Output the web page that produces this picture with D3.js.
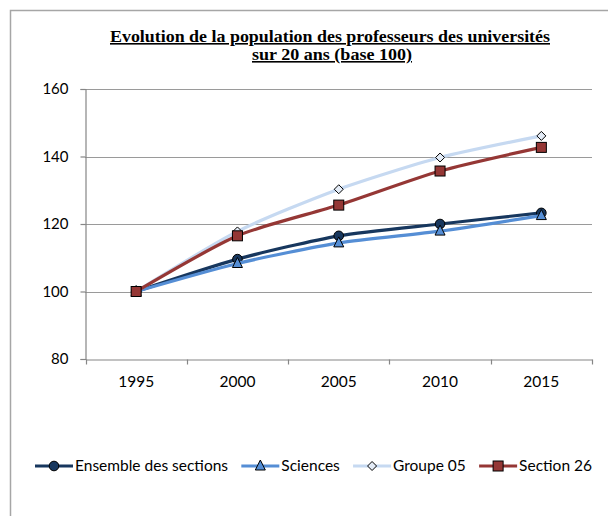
<!DOCTYPE html>
<html lang="fr">
<head>
<meta charset="UTF-8">
<title>Evolution professeurs</title>
<script src="https://d3js.org/d3.v7.min.js"></script>
<style>
  body { margin: 0; background: #fff; }
</style>
</head>
<body>
<div id="chart"></div>
<script>
var years = ["1995", "2000", "2005", "2010", "2015"];
var ensemble = [100, 109.6, 116.5, 120.0, 123.3];
var sciences = [100, 108.3, 114.4, 117.9, 122.5];
var groupe05 = [100, 117.8, 130.3, 139.7, 146.1];
var section26 = [100, 116.5, 125.6, 135.7, 142.7];
var yTicks = [80, 100, 120, 140, 160];

var series = [
  {name: "Ensemble des sections", values: ensemble, color: "#17375e", marker: "circle", fill: "#17375e"},
  {name: "Sciences", values: sciences, color: "#558ed5", marker: "triangle", fill: "#558ed5"},
  {name: "Groupe 05", values: groupe05, color: "#c6d9f1", marker: "diamond", fill: "#e4ecf7"},
  {name: "Section 26", values: section26, color: "#953735", marker: "square", fill: "#953735"}
];

var W = 608, H = 516;
var svg = d3.select("#chart").append("svg")
    .attr("width", W).attr("height", H);

// frame (top + left visible)
svg.append("path")
    .attr("d", "M10.5,516 L10.5,10.5 L608,10.5")
    .attr("fill", "none").attr("stroke", "#a6a6a6").attr("stroke-width", 1.5);

// title
var title = svg.append("text")
    .attr("text-anchor", "middle")
    .attr("font-family", "Liberation Serif, Times New Roman, serif")
    .attr("font-weight", "bold")
    .attr("font-size", "16px")
    .attr("text-decoration", "underline")
    .attr("fill", "#000");
title.append("tspan").attr("x", 330).attr("y", 42)
    .attr("textLength", 440).attr("lengthAdjust", "spacingAndGlyphs")
    .text("Evolution de la population des professeurs des universités");
title.append("tspan").attr("x", 332).attr("y", 60)
    .attr("textLength", 160).attr("lengthAdjust", "spacingAndGlyphs")
    .text("sur 20 ans (base 100)");

var x = d3.scaleBand().domain(years).range([85.5, 592]);
var y = d3.scaleLinear().domain([80, 160]).range([359, 89]);

var font = "Lato, Carlito, Calibri, sans-serif";

// grid
svg.append("g").selectAll("line").data(yTicks.slice(1)).enter().append("line")
    .attr("x1", 85).attr("x2", 592)
    .attr("y1", function(d) { return Math.round(y(d)) + 0.5; })
    .attr("y2", function(d) { return Math.round(y(d)) + 0.5; })
    .attr("stroke", "#9a9a9a").attr("stroke-width", 1.2);

// y axis
var yAxis = svg.append("g")
    .attr("transform", "translate(85.5,0)")
    .call(d3.axisLeft(y).tickValues(yTicks).tickSize(5).tickPadding(12));
yAxis.select(".domain").attr("stroke", "#868686").attr("stroke-width", 1.2);
yAxis.selectAll(".tick line").attr("stroke", "#868686").attr("stroke-width", 1.2);
yAxis.selectAll(".tick text").attr("font-family", font).attr("font-size", "15px").attr("fill", "#000");

// x axis
var xAxis = svg.append("g")
    .attr("transform", "translate(0,359.5)")
    .call(d3.axisBottom(x).tickSize(0).tickPadding(16));
xAxis.select(".domain").attr("stroke", "#868686").attr("stroke-width", 1.2);
xAxis.selectAll(".tick text").attr("font-family", font).attr("font-size", "15.5px").attr("fill", "#000");
// boundary ticks
var bounds = years.map(function(d) { return x(d); }).concat([x.range()[1]]);
xAxis.selectAll(".bnd").data(bounds).enter().append("line")
    .attr("x1", function(d) { return Math.round(d) + 0.5; })
    .attr("x2", function(d) { return Math.round(d) + 0.5; })
    .attr("y1", 0).attr("y2", 5)
    .attr("stroke", "#868686").attr("stroke-width", 1.2);

var cx = function(i) { return x(years[i]) + x.bandwidth() / 2; };

var line = d3.line()
    .x(function(d, i) { return cx(i); })
    .y(function(d) { return y(d); })
    .curve(d3.curveCardinal.tension(0.3));

function drawMarker(g, type, px, py, fill) {
  var m;
  if (type === "circle") {
    m = g.append("circle").attr("cx", px).attr("cy", py).attr("r", 4.8);
  } else if (type === "triangle") {
    m = g.append("path").attr("d", "M" + px + "," + (py - 6) + " L" + (px + 5) + "," + (py + 4) + " L" + (px - 5) + "," + (py + 4) + " Z");
  } else if (type === "diamond") {
    m = g.append("path").attr("d", "M" + px + "," + (py - 4.5) + " L" + (px + 4.5) + "," + py + " L" + px + "," + (py + 4.5) + " L" + (px - 4.5) + "," + py + " Z");
  } else {
    m = g.append("rect").attr("x", px - 5).attr("y", py - 5).attr("width", 10).attr("height", 10);
  }
  m.attr("fill", fill).attr("stroke", "#000").attr("stroke-width", 1);
}

series.forEach(function(s) {
  var g = svg.append("g");
  g.append("path").datum(s.values)
    .attr("d", line)
    .attr("fill", "none")
    .attr("stroke", s.color)
    .attr("stroke-width", 3.2)
    .attr("stroke-linejoin", "round");
  s.values.forEach(function(v, i) {
    drawMarker(g, s.marker, cx(i), y(v), s.fill);
  });
});

// legend: spread items so they span the same width as in the original
var legend = svg.append("g");
var ly = 466, left = 35, right = 592, sym = 38, gapText = 2;
var items = series.map(function(s) {
  var g = legend.append("g");
  var t = g.append("text").attr("y", ly + 5)
    .attr("font-family", font).attr("font-size", "15.5px").attr("fill", "#000")
    .text(s.name);
  return {s: s, g: g, t: t, w: t.node().getComputedTextLength()};
});
var used = d3.sum(items, function(d) { return sym + gapText + d.w; });
var gap = (right - left - used) / (items.length - 1);
var lx = left;
items.forEach(function(it) {
  it.g.insert("line", "text").attr("x1", lx).attr("x2", lx + sym).attr("y1", ly).attr("y2", ly)
    .attr("stroke", it.s.color).attr("stroke-width", 3.2);
  drawMarker(it.g, it.s.marker, lx + sym / 2, ly, it.s.fill);
  it.t.attr("x", lx + sym + gapText);
  lx += sym + gapText + it.w + gap;
});
</script>
</body>
</html>
